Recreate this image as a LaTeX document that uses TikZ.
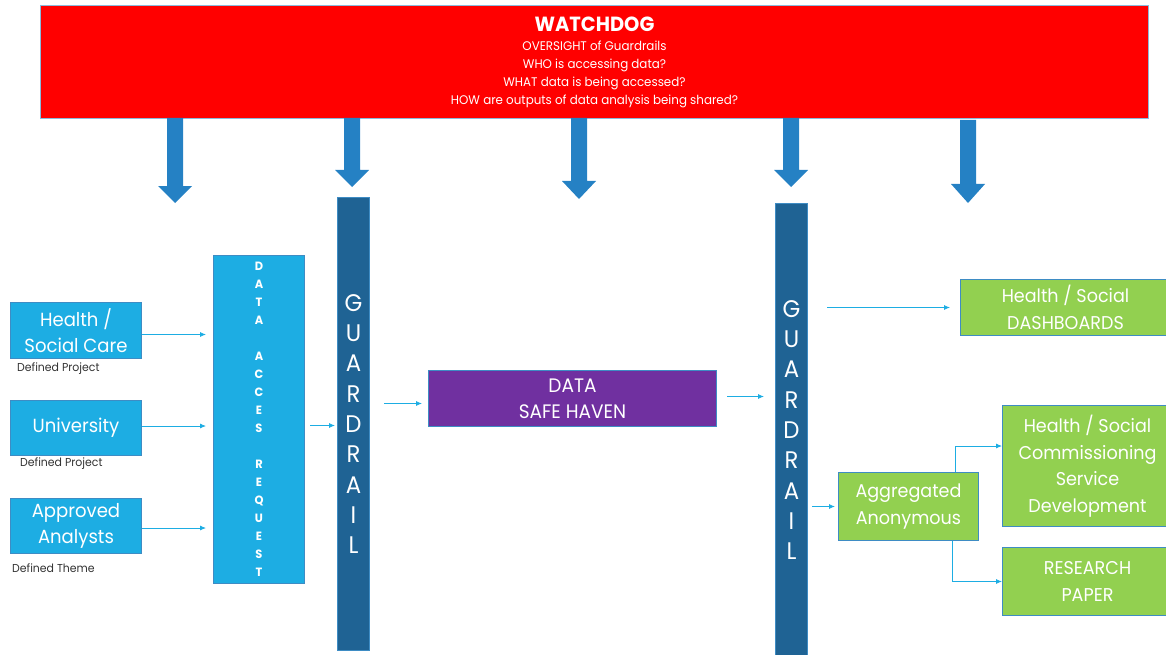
\documentclass[tikz,border=0pt]{standalone}
\usepackage{fontspec}
\setmainfont{Poppins}[FakeStretch=0.95]
\usetikzlibrary{arrows.meta}

\definecolor{wdred}{HTML}{FF0000}
\definecolor{wdarrow}{HTML}{2581C4}
\definecolor{railblue}{HTML}{1F6394}
\definecolor{reqblue}{HTML}{1DADE3}
\definecolor{havenpurple}{HTML}{7030A0}
\definecolor{outgreen}{HTML}{92D050}
\definecolor{edgeblue}{HTML}{3E8CC4}

\tikzset{
  box/.style={draw=edgeblue, line width=1pt, anchor=north west, inner sep=0pt,
    align=center, text=white},
  srcbox/.style={box, fill=reqblue, minimum width=131pt, minimum height=56pt,
    font=\fontsize{19}{26}\selectfont},
  outbox/.style={box, fill=outgreen, font=\fontsize{18.5}{26.5}\selectfont},
  railbox/.style={box, fill=railblue, minimum width=32pt, minimum height=453pt,
    font=\fontsize{24}{30.3}\selectfont},
  note/.style={anchor=west, inner sep=0pt, text=black!80,
    font=\fontsize{11.5}{13}\selectfont},
  flow/.style={-{Latex[length=6pt,width=5pt]}, draw=reqblue, line width=0.8pt}
}

\begin{document}
\begin{tikzpicture}[x=1pt, y=-1pt]
	\useasboundingbox (0, 0) rectangle (1166, 655);

	% oversight
	\node[box, fill=wdred, minimum width=1108pt, minimum height=113pt,
		draw=edgeblue!60, font=\fontsize{12.5}{18}\selectfont] (watchdog) at (40, 5)
		{{\fontsize{20.5}{20}\selectfont\bfseries WATCHDOG}\\[1pt]
		 OVERSIGHT of Guardrails\\
		 WHO is accessing data?\\
		 WHAT data is being accessed?\\
		 HOW are outputs of data analysis being shared?};

		\fill[wdarrow] (167, 118) -- (183, 118) -- (183, 186) -- (192, 186) -- (175, 203) -- (158, 186) -- (167, 186) -- cycle;
		\fill[wdarrow] (344, 118) -- (360, 118) -- (360, 170) -- (369, 170) -- (352, 187) -- (335, 170) -- (344, 170) -- cycle;
		\fill[wdarrow] (571, 118) -- (587, 118) -- (587, 181) -- (596, 181) -- (579, 199) -- (562, 181) -- (571, 181) -- cycle;
		\fill[wdarrow] (783, 118) -- (799, 118) -- (799, 170) -- (808, 170) -- (791, 187) -- (774, 170) -- (783, 170) -- cycle;
		\fill[wdarrow] (960, 120) -- (976, 120) -- (976, 184) -- (985, 184) -- (968, 203) -- (951, 184) -- (960, 184) -- cycle;

	% sources
	\node[srcbox] (health) at (10, 302){Health /\\Social Care};
	\node[srcbox, minimum height=55pt] (uni) at (10, 400){University};
	\node[srcbox, minimum height=55pt] (analysts) at (10, 498){Approved\\Analysts};

	\node[note] at (17, 369){Defined Project};
	\node[note] at (20, 464){Defined Project};
	\node[note] at (12, 568){Defined Theme};

	% request and guardrails
	\node[box, fill=reqblue, minimum width=91pt, minimum height=328pt,
		font=\fontsize{12}{18}\selectfont\bfseries] (request) at (213, 255)
		{D\\A\\T\\A\\[18pt]A\\C\\C\\E\\S\\[18pt]R\\E\\Q\\U\\E\\S\\T};

	\node[railbox] (railA) at (337, 197){G\\U\\A\\R\\D\\R\\A\\I\\L};
	\node[railbox] (railB) at (775, 203){G\\U\\A\\R\\D\\R\\A\\I\\L};

	\node[box, fill=havenpurple, minimum width=288pt, minimum height=56pt,
		font=\fontsize{19.5}{26}\selectfont] (haven) at (428, 370){DATA\\SAFE HAVEN};

	% outputs
	\node[outbox, minimum width=210pt, minimum height=56pt] (dash) at (960, 279)
		{Health / Social\\DASHBOARDS};
	\node[outbox, minimum width=140pt, minimum height=68pt] (agg) at (838, 472)
		{Aggregated\\Anonymous};
	\node[outbox, minimum width=170pt, minimum height=121pt] (comm) at (1002, 405)
		{Health / Social\\Commissioning\\Service\\Development};
	\node[outbox, minimum width=170pt, minimum height=68pt] (paper) at (1002, 547)
		{RESEARCH\\PAPER};

	% flows
	\draw[flow, shorten >=7pt] ([yshift=-4pt]health.east) -- ([yshift=-4pt]health.east -| request.west);
	\draw[flow, shorten >=7pt] ([yshift=2pt]uni.east) -- ([yshift=2pt]uni.east -| request.west);
	\draw[flow, shorten >=7pt] ([yshift=-2pt]analysts.east) -- ([yshift=-2pt]analysts.east -| request.west);
	\draw[flow, shorten <=5pt, shorten >=2pt] ([yshift=-6pt]request.east) -- ([yshift=-6pt]request.east -| railA.west);
	\draw[flow, shorten <=14pt, shorten >=6pt] ([yshift=-5pt]haven.west -| railA.east) -- ([yshift=-5pt]haven.west);
	\draw[flow, shorten <=10pt, shorten >=11pt] ([yshift=2pt]haven.east) -- ([yshift=2pt]haven.east -| railB.west);
	\draw[flow, shorten <=19pt, shorten >=10pt] (dash.west -| railB.east) -- (dash.west);
	\draw[flow, shorten <=4pt, shorten >=3pt] (agg.west -| railB.east) -- (agg.west);
	\draw[flow] ([xshift=47pt]agg.north) |- ([yshift=20pt]comm.west);
	\draw[flow] ([xshift=44pt]agg.south) |- (paper.west);

\end{tikzpicture}
\end{document}
